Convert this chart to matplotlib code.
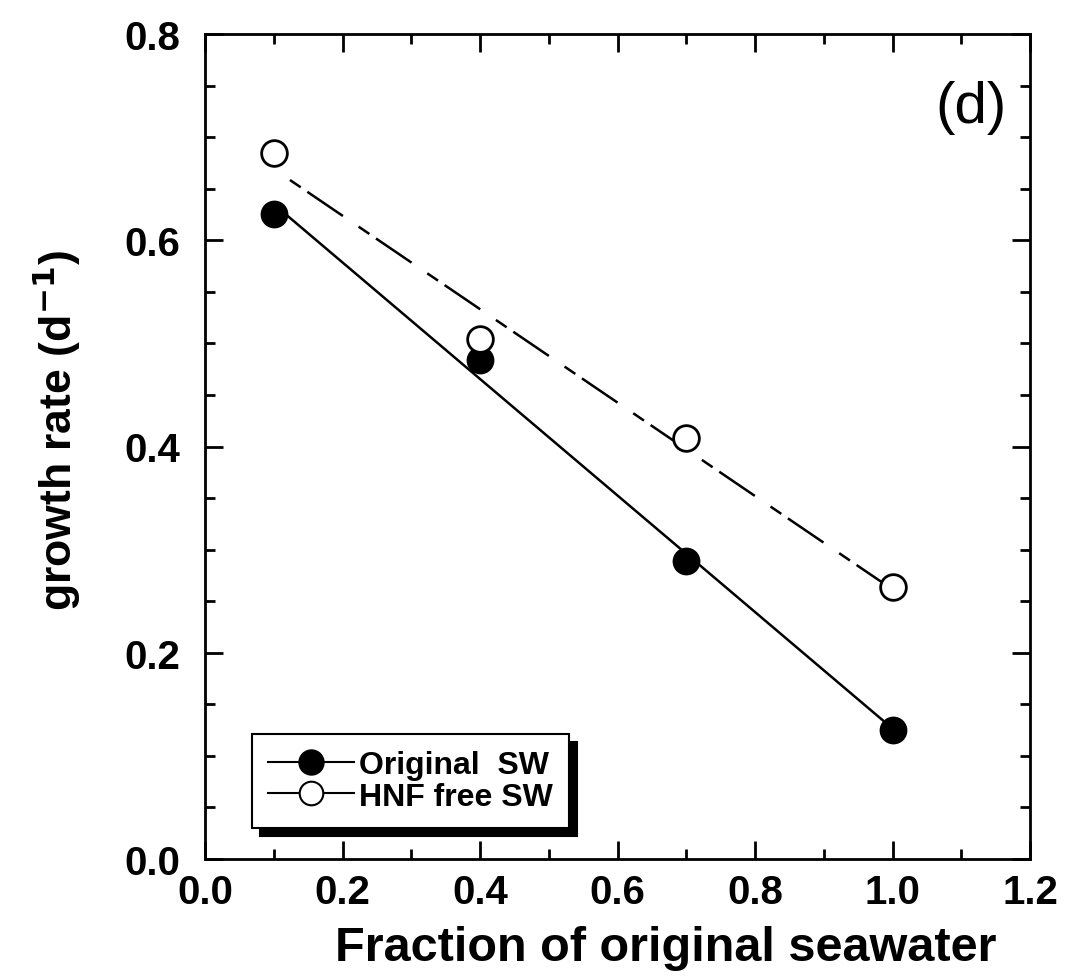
import numpy as np
import matplotlib
matplotlib.use("Agg")
import matplotlib.pyplot as plt
from matplotlib.ticker import MultipleLocator
from matplotlib.lines import Line2D

plt.rcParams['font.family'] = ['Liberation Sans', 'DejaVu Sans']

fraction = [0.1, 0.4, 0.7, 1.0]
original_sw = [0.625, 0.484, 0.289, 0.125]
hnf_free_sw = [0.685, 0.504, 0.408, 0.264]
series_labels = ['Original  SW', 'HNF free SW']

fig = plt.figure(figsize=(10.65, 9.79), dpi=100)
ax = fig.add_axes([205/1065, 119/979, 825/1065, 825/979])

# regression lines
xs = np.array([fraction[0], fraction[-1]])
p1 = np.polyfit(fraction, original_sw, 1)
p2 = np.polyfit(fraction, hnf_free_sw, 1)
ax.plot(xs, np.polyval(p1, xs), color='black', lw=1.8, zorder=2)
xs2 = np.array([0.1236, fraction[-1]])
ax.plot(xs2, np.polyval(p2, xs2), color='black', lw=1.8, zorder=2,
        dashes=(5.2, 3.2, 17.2, 7.6))

ax.plot(fraction, original_sw, 'o', ms=18.5, mfc='black',
        mec='black', mew=1.5, zorder=3)
ax.plot(fraction, hnf_free_sw, 'o', ms=18.5, mfc='white',
        mec='black', mew=2.0, zorder=3)

h1 = Line2D([], [], color='black', lw=1.5, marker='o', ms=18, mfc='black', mec='black')
h2 = Line2D([], [], color='black', lw=1.5, marker='o', ms=17, mfc='white', mec='black', mew=1.5)
leg = ax.legend([h1, h2], series_labels, loc='lower left',
                bbox_to_anchor=(0.057, 0.038), frameon=True, fancybox=False,
                shadow={'color': 'black', 'alpha': 1.0, 'ox': 6, 'oy': -6},
                edgecolor='black',
                framealpha=1, handlelength=2.7, handletextpad=0.15,
                labelspacing=0.05, borderpad=0.5, borderaxespad=0,
                prop={'weight': 'bold', 'size': 23})
leg.get_frame().set_linewidth(1.5)

ax.set_xlim(0, 1.2)
ax.set_ylim(0, 0.8)
ax.xaxis.set_major_locator(MultipleLocator(0.2))
ax.xaxis.set_minor_locator(MultipleLocator(0.1))
ax.yaxis.set_major_locator(MultipleLocator(0.2))
ax.yaxis.set_minor_locator(MultipleLocator(0.05))
ax.tick_params(which='both', direction='in', top=True, right=True, width=2)
ax.tick_params(which='major', length=13, labelsize=29)
ax.tick_params(axis='x', which='major', pad=10)
ax.tick_params(axis='y', which='major', pad=18)
ax.tick_params(which='minor', length=7)
ax.set_xticks(ax.get_xticks())
ax.set_yticks(ax.get_yticks())
ax.set_xticklabels([f"{v:.1f}" for v in ax.get_xticks()], fontweight='bold')
ax.set_yticklabels([f"{v:.1f}" for v in ax.get_yticks()], fontweight='bold')
ax.set_xlim(0, 1.2)
ax.set_ylim(0, 0.8)
for s in ax.spines.values():
    s.set_linewidth(2)

ax.set_xlabel('Fraction of original seawater', fontsize=35, fontweight='bold')
ax.xaxis.set_label_coords(0.558, -0.107, transform=ax.transAxes)
ax.xaxis.label.set_va('center')
ax.set_ylabel('growth rate (d$^{\\mathbf{-1}}$)', fontsize=32, fontweight='bold')
ax.yaxis.set_label_coords(-0.18, 0.521, transform=ax.transAxes)
ax.yaxis.label.set_va('center')
ax.text(0.972, 0.912, '(d)', transform=ax.transAxes, fontsize=42, ha='right', va='center')

fig.savefig('out.png', dpi=100)
